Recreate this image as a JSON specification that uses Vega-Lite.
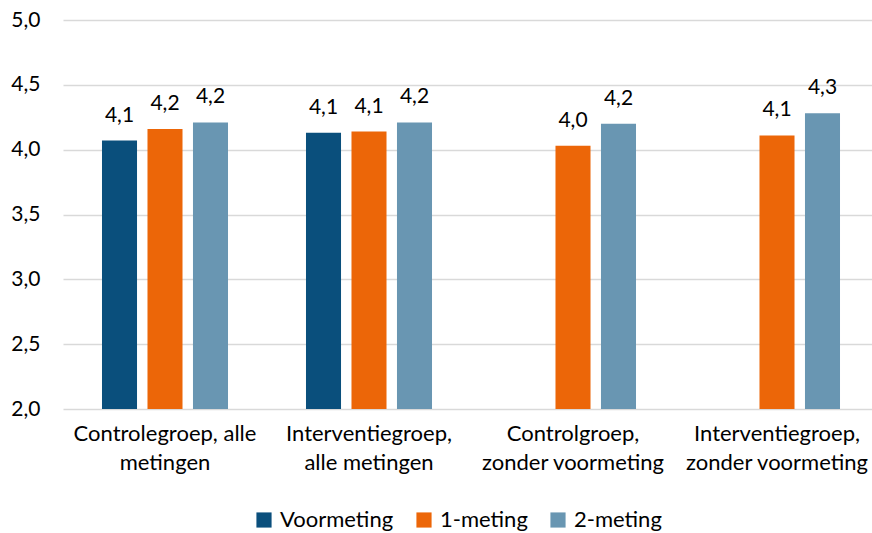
{
  "$schema": "https://vega.github.io/schema/vega-lite/v6.json",
  "autosize": "none",
  "width": 809,
  "height": 389,
  "padding": {"left": 63, "top": 20, "right": 0, "bottom": 124},
  "background": "white",
  "config": {
    "locale": {"number": {"decimal": ",", "thousands": ".", "grouping": [3], "currency": ["€", ""]}},
    "view": {"stroke": null},
    "font": "Lato"
  },
  "data": {
    "values": [
      {"groep": "Controlegroep, alle metingen", "meting": "Voormeting", "waarde": 4.07},
      {"groep": "Controlegroep, alle metingen", "meting": "1-meting", "waarde": 4.16},
      {"groep": "Controlegroep, alle metingen", "meting": "2-meting", "waarde": 4.21},
      {"groep": "Interventiegroep, alle metingen", "meting": "Voormeting", "waarde": 4.13},
      {"groep": "Interventiegroep, alle metingen", "meting": "1-meting", "waarde": 4.14},
      {"groep": "Interventiegroep, alle metingen", "meting": "2-meting", "waarde": 4.21},
      {"groep": "Controlgroep, zonder voormeting", "meting": "1-meting", "waarde": 4.03},
      {"groep": "Controlgroep, zonder voormeting", "meting": "2-meting", "waarde": 4.2},
      {"groep": "Interventiegroep, zonder voormeting", "meting": "1-meting", "waarde": 4.11},
      {"groep": "Interventiegroep, zonder voormeting", "meting": "2-meting", "waarde": 4.28}
    ]
  },
  "encoding": {
    "x": {
      "field": "groep", "type": "nominal", "sort": null,
      "scale": {"range": [0, 816], "paddingInner": 0, "paddingOuter": 0},
      "axis": {
        "title": null, "labelAngle": 0, "domain": false, "ticks": false,
        "labelFontSize": 22, "labelColor": "#000000", "labelPadding": 14,
        "labelLineHeight": 29, "labelFont": "Lato", "labelLimit": 400,
        "labelExpr": "datum.label == 'Controlegroep, alle metingen' ? ['Controlegroep, alle', 'metingen'] : [split(datum.label, ', ')[0] + ',', split(datum.label, ', ')[1]]"
      }
    },
    "xOffset": {
      "field": "meting", "type": "nominal",
      "scale": {"domain": ["Voormeting", "1-meting", "2-meting"], "paddingInner": 0.23, "paddingOuter": 0.857}
    },
    "y": {
      "field": "waarde", "type": "quantitative",
      "scale": {"domain": [2, 5], "zero": false},
      "axis": {
        "title": null, "values": [2, 2.5, 3, 3.5, 4, 4.5, 5], "format": ".1f",
        "domain": false, "ticks": false, "labelPadding": 23,
        "labelFontSize": 21, "labelColor": "#000000",
        "gridColor": "#D9D9D9", "gridWidth": 1.5
      }
    }
  },
  "layer": [
    {
      "mark": {"type": "bar"},
      "encoding": {
        "y2": {"datum": 2},
        "color": {
          "field": "meting", "type": "nominal",
          "scale": {"domain": ["Voormeting", "1-meting", "2-meting"], "range": ["#0A4F7C", "#EC6608", "#6996B2"]},
          "legend": {
            "title": null, "orient": "none", "direction": "horizontal",
            "legendX": 190, "legendY": 489,
            "symbolType": "square", "symbolSize": 230, "symbolStrokeWidth": 0, "symbolOpacity": 1,
            "labelFontSize": 22, "labelColor": "#000000", "columnPadding": 19, "labelOffset": 5
          }
        }
      }
    },
    {
      "mark": {"type": "text", "baseline": "bottom", "dy": -15, "fontSize": 21, "color": "#000000"},
      "encoding": {
        "text": {"field": "waarde", "type": "quantitative", "format": ".1f"}
      }
    }
  ]
}
